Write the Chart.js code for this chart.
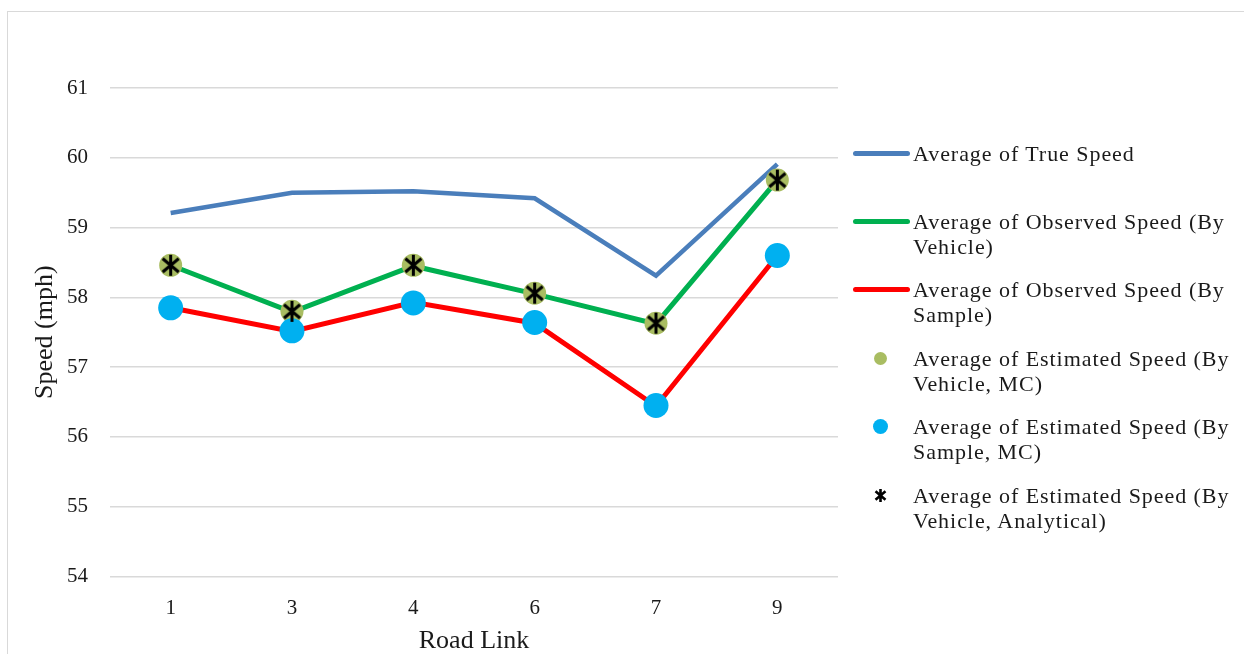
<!DOCTYPE html>
<html>
<head>
<meta charset="utf-8">
<script src="https://cdn.jsdelivr.net/npm/chart.js@4.4.1/dist/chart.umd.min.js"></script>
<style>
  html, body { margin: 0; padding: 0; background: #fff; }
  #wrap { position: relative; width: 1244px; height: 654px; overflow: hidden; }
  #frame { position: absolute; left: 7px; top: 11px; width: 1300px; height: 700px;
           border: 1px solid #d9d9d9; box-sizing: border-box; }
  canvas { position: absolute; left: 0; top: 0; }
  #legend { position: absolute; left: 0; top: 0; width: 1244px; height: 654px;
            font-family: "Liberation Serif", "Times New Roman", serif; color: #1a1a1a; }
  .item { position: absolute; left: 913px; width: 330px; font-size: 22px; line-height: 25px;
          letter-spacing: 0.95px; }
  .sw { position: absolute; }
</style>
</head>
<body>
<div id="wrap">
  <div id="frame"></div>
  <canvas id="c" width="1244" height="654"></canvas>
  <div id="legend"></div>
</div>
<script>
// Road links on the x axis
const links = ['1', '3', '4', '6', '7', '9'];

// Average speeds per link (mph)
const trueSpeed            = [59.21, 59.50, 59.52, 59.42, 58.31, 59.91];
const observedByVehicle    = [58.46, 57.79, 58.45, 58.05, 57.62, 59.68];
const observedBySample     = [57.85, 57.51, 57.93, 57.63, 56.44, 58.60];
const estVehicleMC         = [58.46, 57.80, 58.46, 58.06, 57.63, 59.68];
const estSampleMC          = [57.85, 57.52, 57.92, 57.64, 56.45, 58.60];
const estVehicleAnalytical = [58.46, 57.80, 58.46, 58.06, 57.63, 59.68];

// Y axis range (mph)
const yMin = 54, yMax = 61, yStep = 1;

const SERIF = '"Liberation Serif", "Times New Roman", serif';
const TEXT = '#1a1a1a';

// asterisk marker: a vertical bar crossed by an X
function asterisk(size, width) {
  const c = document.createElement('canvas');
  c.width = size + 4; c.height = size + 4;
  const g = c.getContext('2d');
  const cx = c.width / 2, cy = c.height / 2, r = size / 2;
  g.strokeStyle = '#000'; g.lineWidth = width; g.lineCap = 'butt';
  g.beginPath();
  [90, 40, 140].forEach(deg => {
    const a = deg * Math.PI / 180;
    g.moveTo(cx + r * Math.cos(a), cy + r * Math.sin(a));
    g.lineTo(cx - r * Math.cos(a), cy - r * Math.sin(a));
  });
  g.stroke();
  return c;
}
const starPoint = asterisk(21, 3);

const datasets = [
  { label: 'Average of True Speed', data: trueSpeed, borderColor: '#4a7ebb',
    borderWidth: 4.5, pointRadius: 0, order: 6, kind: 'line' },
  { label: 'Average of Observed Speed (By Vehicle)', data: observedByVehicle, borderColor: '#00b050',
    borderWidth: 5, pointRadius: 0, order: 5, kind: 'line' },
  { label: 'Average of Observed Speed (By Sample)', data: observedBySample, borderColor: '#ff0000',
    borderWidth: 5, pointRadius: 0, order: 4, kind: 'line' },
  { label: 'Average of Estimated Speed (By Vehicle, MC)', data: estVehicleMC, showLine: false,
    pointRadius: 11.5, pointBackgroundColor: '#a9bd62', pointBorderWidth: 0, borderColor: '#a9bd62',
    order: 3, kind: 'dot', swColor: '#a9bd62', swR: 6.5 },
  { label: 'Average of Estimated Speed (By Sample, MC)', data: estSampleMC, showLine: false,
    pointRadius: 12.5, pointBackgroundColor: '#00b0f0', pointBorderWidth: 0, borderColor: '#00b0f0',
    order: 2, kind: 'dot', swColor: '#00b0f0', swR: 7.5 },
  { label: 'Average of Estimated Speed (By Vehicle, Analytical)', data: estVehicleAnalytical, showLine: false,
    pointStyle: starPoint, pointRadius: 11, borderColor: '#000', order: 1, kind: 'star' }
];

new Chart(document.getElementById('c'), {
  type: 'line',
  data: { labels: links, datasets },
  options: {
    responsive: false,
    animation: false,
    layout: { padding: { left: 8, right: 406, top: 88, bottom: 0 } },
    plugins: { legend: { display: false }, tooltip: { enabled: false } },
    scales: {
      x: {
        offset: true,
        grid: { display: false, drawTicks: false },
        border: { display: false },
        ticks: { color: TEXT, font: { family: SERIF, size: 21 }, padding: 19 },
        title: { display: true, text: 'Road Link', color: TEXT,
                 font: { family: SERIF, size: 26, lineHeight: 1.0 }, padding: { top: 0, bottom: 0 } },
        afterFit: s => { s.height = 654 - 576.5; }
      },
      y: {
        min: yMin, max: yMax,
        ticks: { stepSize: yStep, color: TEXT, font: { family: SERIF, size: 21 }, padding: 22 },
        grid: { color: '#d9d9d9', lineWidth: 1.5, drawTicks: false },
        border: { display: false },
        title: { display: true, text: 'Speed (mph)', color: TEXT,
                 font: { family: SERIF, size: 26, lineHeight: 1.0 }, padding: { top: 24, bottom: 0 } },
        afterFit: s => { s.width = 102; }
      }
    }
  }
});

// legend on the right
const legend = document.getElementById('legend');
datasets.forEach((d, i) => {
  const top = 140.5 + 68.4 * i;
  const cy = top + 12.5;
  const item = document.createElement('div');
  item.className = 'item';
  item.style.top = top + 'px';
  item.textContent = d.label;
  legend.appendChild(item);
  if (d.kind === 'star') {
    const st = asterisk(13, 2.6);
    st.style.position = 'absolute';
    st.style.left = (880 - st.width / 2) + 'px';
    st.style.top = (cy - st.height / 2) + 'px';
    legend.appendChild(st);
    return;
  }
  const sw = document.createElement('div');
  sw.className = 'sw';
  if (d.kind === 'line') {
    Object.assign(sw.style, { left: '853px', top: (cy - 2.5) + 'px', width: '57px', height: '5px',
      background: d.borderColor, borderRadius: '2.5px' });
  } else {
    const r = d.swR;
    Object.assign(sw.style, { left: (880 - r) + 'px', top: (cy - r) + 'px', width: 2 * r + 'px',
      height: 2 * r + 'px', background: d.swColor, borderRadius: '50%' });
  }
  legend.appendChild(sw);
});
</script>
</body>
</html>
